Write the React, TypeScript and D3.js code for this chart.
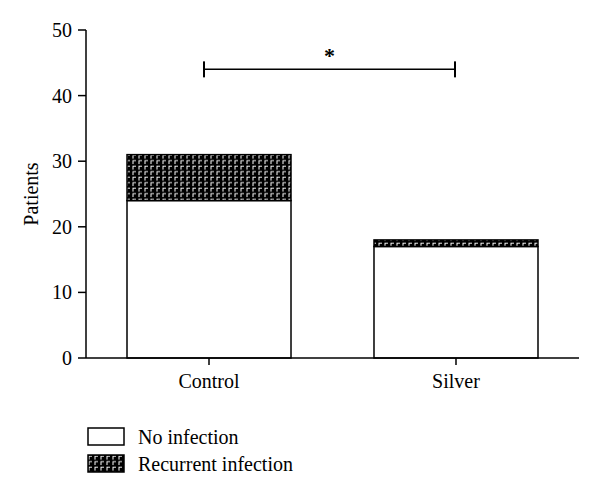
import React from 'react';
import * as d3 from 'd3';

const categories = ['Control', 'Silver'];
const noInfection = [24, 17];
const recurrentInfection = [7, 1];
const yTicks = [0, 10, 20, 30, 40, 50];
const legendLabels = ['No infection', 'Recurrent infection'];
const sigLevel = 44;
const sigLabel = '*';

const W = 600;
const H = 497;
const margin = { top: 30, left: 86, right: 21, bottom: 139 };
const FONT = '"Liberation Serif", "DejaVu Serif", serif';
const FS = 20;

const App = () => {
    const x = d3
        .scaleBand()
        .domain(categories)
        .range([margin.left, W - margin.right])
        .paddingInner(0.336)
        .paddingOuter(0.166);

    const y = d3
        .scaleLinear()
        .domain([0, 50])
        .range([H - margin.bottom, margin.top]);

    const stacked = d3
        .stack()
        .keys(['no', 'rec'])(categories.map((c, i) => ({ cat: c, no: noInfection[i], rec: recurrentInfection[i] })) as any);

    const fills = ['#fff', 'url(#pat)'];
    const x0 = y(0);

    return (
        <svg width={W} height={H} style={{ display: 'block', position: 'absolute', left: 0, top: 0 }}>
            <defs>
                <pattern id="pat" width={6} height={5.5} patternUnits="userSpaceOnUse">
                    <rect width={6} height={5.5} fill="#000" />
                    <path d="M1,4.5 V1.2 H4" fill="none" stroke="#fff" strokeWidth={1} />
                </pattern>
            </defs>
            <rect width={W} height={H} fill="#fff" />

            {stacked.map((layer, li) =>
                layer.map((d, i) => (
                    <rect
                        key={`${li}-${i}`}
                        x={x(categories[i])}
                        y={y(d[1])}
                        width={x.bandwidth()}
                        height={y(d[0]) - y(d[1])}
                        fill={fills[li]}
                        stroke="#000"
                        strokeWidth={1.5}
                    />
                ))
            )}

            {/* y axis */}
            <line x1={margin.left} x2={margin.left} y1={y(50)} y2={x0} stroke="#000" strokeWidth={1.5} />
            {yTicks.map(t => (
                <g key={t}>
                    <line x1={margin.left - 8} x2={margin.left} y1={y(t)} y2={y(t)} stroke="#000" strokeWidth={1.5} />
                    <text x={margin.left - 14} y={y(t)} dy="0.35em" textAnchor="end" fontFamily={FONT} fontSize={FS}>
                        {t}
                    </text>
                </g>
            ))}
            <text
                transform={`translate(38,${(y(0) + y(50)) / 2}) rotate(-90)`}
                textAnchor="middle"
                fontFamily={FONT}
                fontSize={FS}
            >
                Patients
            </text>

            {/* x axis */}
            <line x1={margin.left} x2={W - margin.right} y1={x0} y2={x0} stroke="#000" strokeWidth={1.5} />
            {categories.map(c => {
                const cx = (x(c) as number) + x.bandwidth() / 2;
                return (
                    <g key={c}>
                        <line x1={cx} x2={cx} y1={x0} y2={x0 + 7} stroke="#000" strokeWidth={1.5} />
                        <text x={cx} y={x0 + 30} textAnchor="middle" fontFamily={FONT} fontSize={FS}>
                            {c}
                        </text>
                    </g>
                );
            })}

            {/* significance bracket */}
            {(() => {
                const a = (x(categories[0]) as number) + x.bandwidth() / 2 - 5;
                const b = (x(categories[1]) as number) + x.bandwidth() / 2 - 1;
                const sy = y(sigLevel);
                return (
                    <g>
                        <line x1={a} x2={b} y1={sy} y2={sy} stroke="#000" strokeWidth={1.5} />
                        <line x1={a} x2={a} y1={sy - 8} y2={sy + 8} stroke="#000" strokeWidth={2} />
                        <line x1={b} x2={b} y1={sy - 8} y2={sy + 8} stroke="#000" strokeWidth={2} />
                        <text x={(a + b) / 2} y={sy - 6} textAnchor="middle" fontFamily={FONT} fontSize={22} fontWeight="bold">
                            {sigLabel}
                        </text>
                    </g>
                );
            })()}

            {/* legend */}
            {legendLabels.map((l, i) => (
                <g key={l} transform={`translate(88,${428 + i * 27})`}>
                    <rect width={36} height={17} fill={fills[i]} stroke="#000" strokeWidth={1.5} />
                    <text x={50} y={9} dy="0.35em" fontFamily={FONT} fontSize={FS}>
                        {l}
                    </text>
                </g>
            ))}
        </svg>
    );
};

export default App;
